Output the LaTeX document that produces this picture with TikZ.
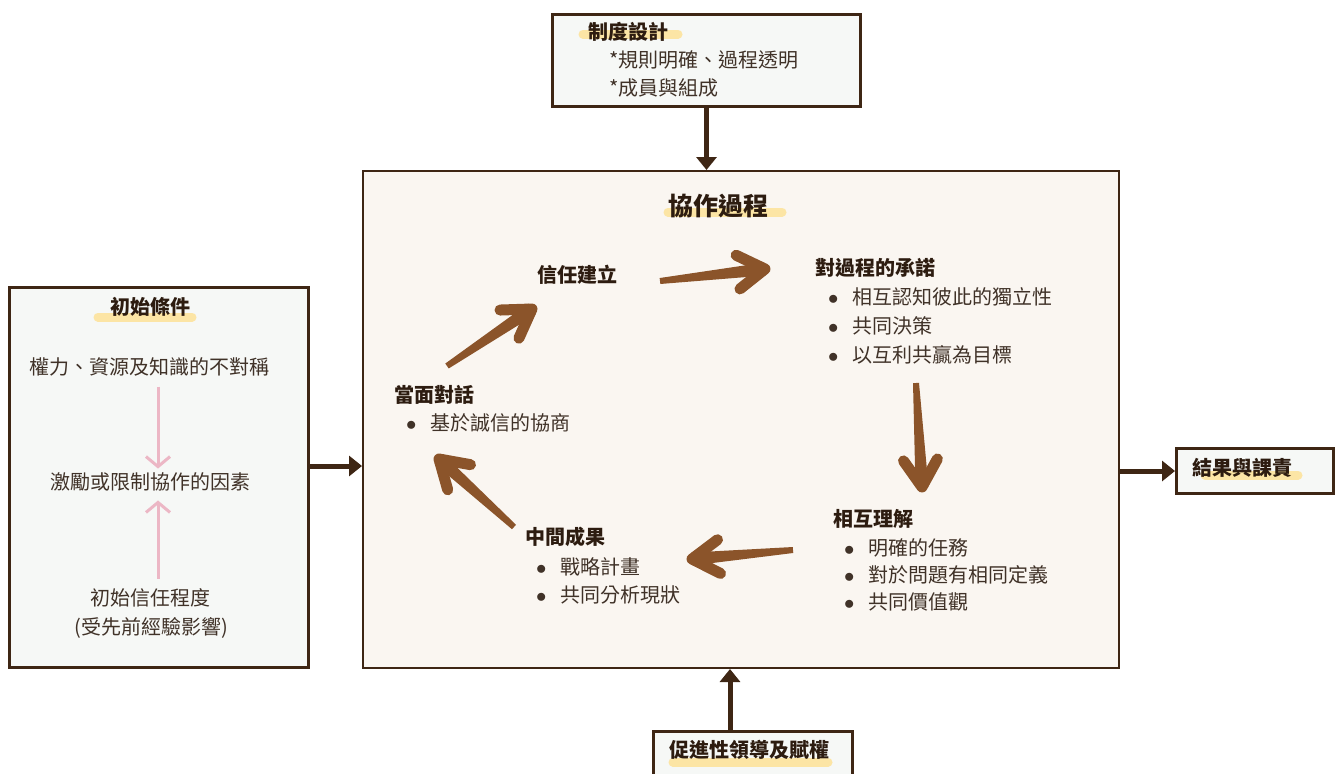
\documentclass[tikz,border=0pt]{standalone}
\usepackage{fontspec}
\setmainfont{Noto Sans CJK TC}
\usetikzlibrary{arrows.meta,calc}
\definecolor{dk}{RGB}{62,38,20}
\definecolor{hd}{RGB}{45,28,16}
\definecolor{bd}{RGB}{64,50,40}
\definecolor{brush}{RGB}{139,84,42}
\definecolor{hlc}{RGB}{252,229,165}
\definecolor{pinkc}{RGB}{236,183,197}
\definecolor{sidefill}{RGB}{246,248,246}
\definecolor{mainfill}{RGB}{250,246,241}
\newcommand{\brushar}[2]{%
  \fill[brush] ($(#1)!3pt!90:(#2)$) -- ($(#2)!6.5pt!-90:(#1)$) -- ($(#2)!6.5pt!90:(#1)$) -- ($(#1)!3pt!-90:(#2)$) -- cycle;
  \draw[brush, line width=11pt, line cap=round, line join=round] ($(#2)!32pt!32:(#1)$) -- (#2) -- ($(#2)!32pt!-32:(#1)$);
}
\newcommand{\bul}{\makebox[38pt]{$\bullet$}}
\begin{document}
\begin{tikzpicture}[x=1pt,y=-1pt,
  box/.style={draw=dk, line width=3pt, fill=sidefill, inner sep=0pt, anchor=north west},
  head/.style={font=\fontsize{20}{24}\selectfont\bfseries, text=hd, inner sep=0pt},
  body/.style={font=\fontsize{20}{24}\selectfont, text=bd, inner sep=0pt},
  hl/.style={draw=hlc, line width=9pt, line cap=round},
  darr/.style={draw=dk, line width=5pt, -{Triangle[length=13pt,width=20pt]}},
  parr/.style={draw=pinkc, line width=3pt, -{Straight Barb[length=10pt,width=24pt]}},
]
\useasboundingbox (0,0) rectangle (1342,774);

% boxes
\node[box, minimum width=308pt, minimum height=92pt] (top) at (551,13) {};
\node[box, line width=2pt, fill=mainfill, minimum width=756pt, minimum height=497pt] (main) at (362,170) {};
\node[box, minimum width=299pt, minimum height=380pt] (left) at (8,286) {};
\node[box, minimum width=157pt, minimum height=45pt] (rb) at (1175,447) {};
\node[box, minimum width=199pt, minimum height=80pt] (bot) at (652,730) {};

% highlight bars
\draw[hl] (583,34) -- (678,34);
\draw[hl] (668,212) -- (782,212);
\draw[hl] (98,317) -- (192,317);
\draw[hl] (1205,475) -- (1298,475);
\draw[hl] (673,762) -- (828,762);

% top box texts
\node[head, anchor=west] (t0) at (588,32) {制度設計};
\node[body, anchor=west] (t1) at (609,60) {*規則明確、過程透明};
\node[body, anchor=west] (t2) at (609,88) {*成員與組成};

% main title
\node[head, font=\fontsize{25}{30}\selectfont\bfseries] (title) at (718,206) {協作過程};

% cycle texts
\node[head, anchor=west] (trust) at (537,275) {信任建立};
\node[head, anchor=west] (commit) at (815,268) {對過程的承諾};
\node[body, anchor=west] (c1) at (814,297) {\bul 相互認知彼此的獨立性};
\node[body, anchor=west] (c2) at (814,326) {\bul 共同決策};
\node[body, anchor=west] (c3) at (814,355) {\bul 以互利共贏為目標};
\node[head, anchor=west] (under) at (833,519) {相互理解};
\node[body, anchor=west] (u1) at (830,548) {\bul 明確的任務};
\node[body, anchor=west] (u2) at (830,575) {\bul 對於問題有相同定義};
\node[body, anchor=west] (u3) at (830,602) {\bul 共同價值觀};
\node[head, anchor=west] (mid) at (525,537) {中間成果};
\node[body, anchor=west] (m1) at (522,567) {\bul 戰略計畫};
\node[body, anchor=west] (m2) at (522,595) {\bul 共同分析現狀};
\node[head, anchor=west] (face) at (394,395) {當面對話};
\node[body, anchor=west] (f1) at (392,423) {\bul 基於誠信的協商};

% left box texts
\node[head] (l0) at (150,307) {初始條件};
\node[body] (l1) at (150,367) {權力、資源及知識的不對稱};
\node[body] (l2) at (150,482) {激勵或限制協作的因素};
\node[body] (l3) at (150,598) {初始信任程度};
\node[body] (l4) at (151,628) {(受先前經驗影響)};

% right and bottom texts
\node[head, anchor=west] (res) at (1192,468) {結果與課責};
\node[head] (lead) at (749,750) {促進性領導及賦權};

% pink arrows
\coordinate (px) at (158,0);
\draw[parr, shorten <=10pt, shorten >=4pt] (l1.south -| px) -- (l2.north -| px);
\draw[parr, shorten <=10pt, shorten >=9pt] (l3.north -| px) -- (l2.south -| px);

% dark connectors
\coordinate (ly) at (0,466);
\coordinate (bx) at (730,0);
\draw[darr] (top.south) -- (main.north -| top.south);
\draw[darr] (left.east |- ly) -- (main.west |- ly);
\draw[darr] (main.east |- rb.west) -- (rb.west);
\draw[darr] (bot.north -| bx) -- (main.south -| bx);

% brush arrows of the cycle
\coordinate (a1t) at (660,281); \coordinate (a1h) at (765,269);
\coordinate (a2t) at (447,366); \coordinate (a2h) at (532,309);
\coordinate (a3t) at (916,383); \coordinate (a3h) at (922,487);
\coordinate (a4t) at (793,550); \coordinate (a4h) at (692,559);
\coordinate (a5t) at (514,527); \coordinate (a5h) at (439,459);
\brushar{a1t}{a1h}
\brushar{a2t}{a2h}
\brushar{a3t}{a3h}
\brushar{a4t}{a4h}
\brushar{a5t}{a5h}
\end{tikzpicture}
\end{document}
